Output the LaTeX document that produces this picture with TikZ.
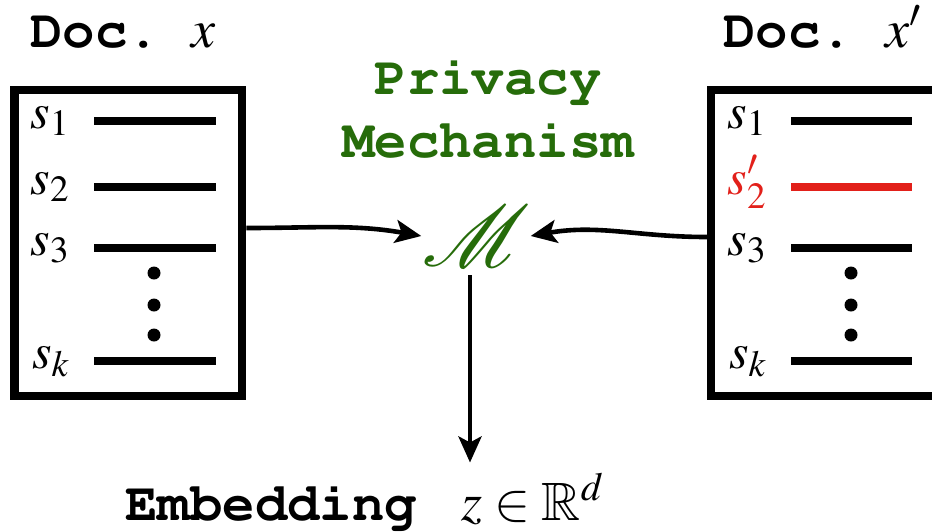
\documentclass[tikz,border=0pt]{standalone}
\usepackage[T1]{fontenc}
\usepackage{mathptmx}
\usepackage{amssymb}
\usepackage{mathrsfs}
\usetikzlibrary{positioning,arrows.meta}

\definecolor{mechgreen}{RGB}{38,108,10}
\definecolor{editred}{RGB}{226,32,26}
\newcommand{\cour}{\fontencoding{T1}\fontfamily{pcr}\fontseries{b}\selectfont}

\begin{document}
\begin{tikzpicture}[x=0.5pt,y=-0.5pt,
    docbox/.style={draw, line width=4.25pt, minimum width=113.75pt, minimum height=153pt, inner sep=0pt},
    sentence/.style={line width=4.25pt},
    slabel/.style={anchor=base east, inner sep=0pt, font=\fontsize{25}{30}\selectfont},
    title/.style={anchor=base west, inner sep=0pt, font=\fontsize{27}{30}\selectfont},
    mechtext/.style={anchor=base, inner sep=0pt, text=mechgreen, font=\fontsize{27}{30}\selectfont\cour},
    flow/.style={line width=2.3pt, -{Stealth[length=13pt,width=11.5pt,inset=3pt]}},
    dot/.style={circle, fill, inner sep=0pt, minimum size=6.5pt}]
    \useasboundingbox (0,0) rectangle (932,531);

    % documents x and x'
    \node[docbox] (docx) at (128.25,243) {};
    \node[docbox] (docxp) at (824.75,243) {};
    \node[title] (tx) at (30,47) {{\cour Doc.}\hspace{16pt}$x$};
    \node[title] (txp) at (723,47) {{\cour Doc.}\hspace{16pt}$x'$};

    % sentences, s_2 is swapped in x'
    \foreach \y/\s [count=\i] in {121/s_1,187/s_2,248/s_3,361/s_k} {
        \node[slabel] (lx\i) at (70,\y+7) {$\s$};
        \draw[sentence] (94,\y) -- (216,\y);
    }
    \foreach \y/\s/\c [count=\i] in {121/s_1/black,187/s'_2/editred,248/s_3/black,361/s_k/black} {
        \node[slabel, text=\c] (lxp\i) at (767,\y+7) {$\s$};
        \draw[sentence, \c] (791,\y) -- (912,\y);
    }
    \foreach \y [count=\i] in {273,305,335} {
        \node[dot] (dx\i) at (154,\y) {};
        \node[dot] (dxp\i) at (851,\y) {};
    }

    % mechanism
    \node[mechtext] (privacy) at (488,94) {Privacy};
    \node[mechtext] (mechanism) at (488,157) {Mechanism};
    \node[inner sep=0pt, text=mechgreen, scale=1.75, font=\fontsize{24.88}{28}\selectfont] (mech) at (476,236) {$\mathscr{M}$};

    \node[anchor=base west, inner sep=0pt, font=\fontsize{27}{30}\selectfont] (emb) at (125,520) {{\cour Embedding}\hspace{22pt}$z\in\mathbb{R}^d$};

    \draw[flow] ([yshift=7.5pt]docx.east) to[out=0,in=170] (mech.west);
    \draw[flow] ([yshift=3pt]docxp.west) to[out=180,in=10] (mech.east);
    \draw[flow, shorten <=4pt, shorten >=5pt] (mech.south -| 470,0) -- (470,0 |- emb.north);
\end{tikzpicture}
\end{document}
